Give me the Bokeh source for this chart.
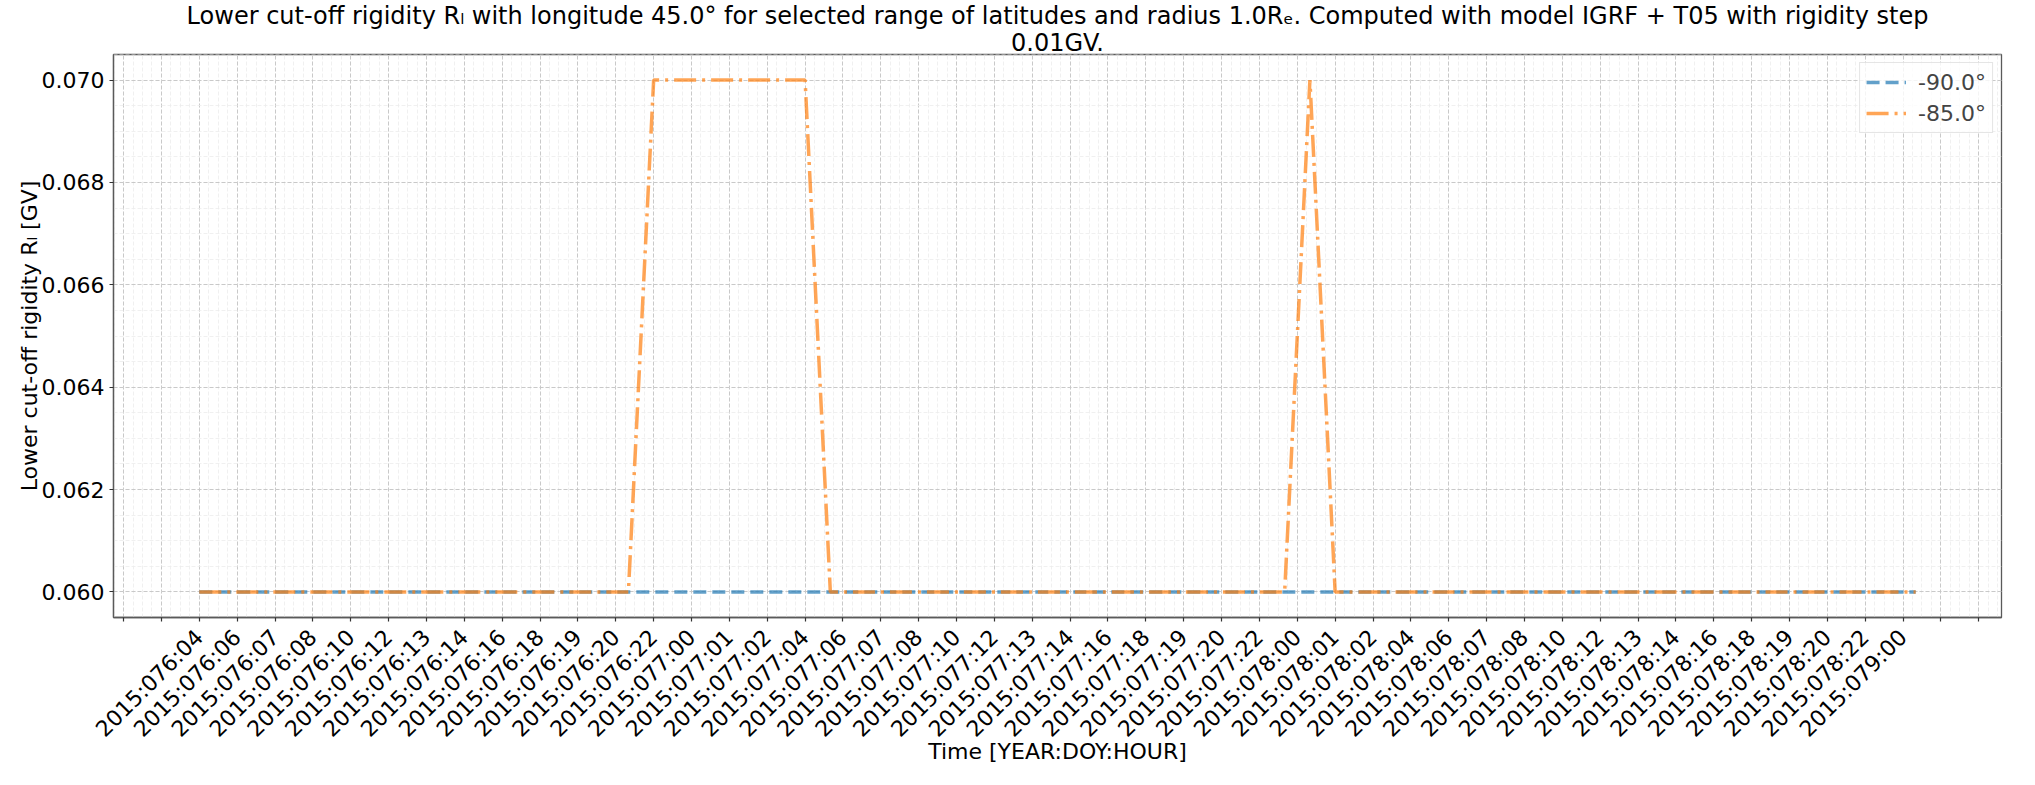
import math
from bokeh.plotting import figure
from bokeh.models import (Range1d, FixedTicker, PrintfTickFormatter, Legend,
                          LegendItem, Title, ColumnDataSource)
from bokeh.embed import file_html
from bokeh.resources import INLINE

# ---- data: hourly samples, index 0 = 2015:076:04 ... 68 = 2015:079:00 ----
hour_index = [0, 1, 2, 3, 4, 5, 6, 7, 8, 9, 10, 11, 12, 13, 14, 15, 16, 17,
              18, 19, 20, 21, 22, 23, 24, 25, 26, 27, 28, 29, 30, 31, 32, 33,
              34, 35, 36, 37, 38, 39, 40, 41, 42, 43, 44, 45, 46, 47, 48, 49,
              50, 51, 52, 53, 54, 55, 56, 57, 58, 59, 60, 61, 62, 63, 64, 65,
              66, 67, 68]

rl_lat_m90 = [0.06, 0.06, 0.06, 0.06, 0.06, 0.06, 0.06, 0.06, 0.06, 0.06,
              0.06, 0.06, 0.06, 0.06, 0.06, 0.06, 0.06, 0.06, 0.06, 0.06,
              0.06, 0.06, 0.06, 0.06, 0.06, 0.06, 0.06, 0.06, 0.06, 0.06,
              0.06, 0.06, 0.06, 0.06, 0.06, 0.06, 0.06, 0.06, 0.06, 0.06,
              0.06, 0.06, 0.06, 0.06, 0.06, 0.06, 0.06, 0.06, 0.06, 0.06,
              0.06, 0.06, 0.06, 0.06, 0.06, 0.06, 0.06, 0.06, 0.06, 0.06,
              0.06, 0.06, 0.06, 0.06, 0.06, 0.06, 0.06, 0.06, 0.06]

rl_lat_m85 = [0.06, 0.06, 0.06, 0.06, 0.06, 0.06, 0.06, 0.06, 0.06, 0.06,
              0.06, 0.06, 0.06, 0.06, 0.06, 0.06, 0.06, 0.06, 0.07, 0.07,
              0.07, 0.07, 0.07, 0.07, 0.07, 0.06, 0.06, 0.06, 0.06, 0.06,
              0.06, 0.06, 0.06, 0.06, 0.06, 0.06, 0.06, 0.06, 0.06, 0.06,
              0.06, 0.06, 0.06, 0.06, 0.07, 0.06, 0.06, 0.06, 0.06, 0.06,
              0.06, 0.06, 0.06, 0.06, 0.06, 0.06, 0.06, 0.06, 0.06, 0.06,
              0.06, 0.06, 0.06, 0.06, 0.06, 0.06, 0.06, 0.06, 0.06]

series_names = ["-90.0°", "-85.0°"]

# tick labels for ticks at 0, 1.5, 3, ... 67.5 (hour index)
tick_labels = [
    "2015:076:04", "2015:076:06", "2015:076:07", "2015:076:08", "2015:076:10",
    "2015:076:12", "2015:076:13", "2015:076:14", "2015:076:16", "2015:076:18",
    "2015:076:19", "2015:076:20", "2015:076:22",
    "2015:077:00", "2015:077:01", "2015:077:02", "2015:077:04", "2015:077:06",
    "2015:077:07", "2015:077:08", "2015:077:10", "2015:077:12", "2015:077:13",
    "2015:077:14", "2015:077:16", "2015:077:18", "2015:077:19", "2015:077:20",
    "2015:077:22",
    "2015:078:00", "2015:078:01", "2015:078:02", "2015:078:04", "2015:078:06",
    "2015:078:07", "2015:078:08", "2015:078:10", "2015:078:12", "2015:078:13",
    "2015:078:14", "2015:078:16", "2015:078:18", "2015:078:19", "2015:078:20",
    "2015:078:22",
    "2015:079:00",
]

y_ticks = [0.060, 0.062, 0.064, 0.066, 0.068, 0.070]

title_line1 = ("Lower cut-off rigidity R\u2097 with longitude 45.0° for selected range of "
               "latitudes and radius 1.0R\u2091. Computed with model IGRF + T05 with rigidity step")
title_line2 = "0.01GV."
x_label = "Time [YEAR:DOY:HOUR]"
y_label = "Lower cut-off rigidity R\u2097 [GV]"

FONT = "DejaVu Sans"

# ---- ranges (matplotlib-like 5% margins) ----
x0, x1 = min(hour_index), max(hour_index)
xm = 0.05 * (x1 - x0)
y0, y1 = min(rl_lat_m90 + rl_lat_m85), max(rl_lat_m90 + rl_lat_m85)
ym = 0.05 * (y1 - y0)

p = figure(frame_width=1888, frame_height=563,
           x_range=Range1d(x0 - xm, x1 + xm), y_range=Range1d(y0 - ym, y1 + ym),
           output_backend="svg", toolbar_location=None,
           min_border_left=113, min_border_right=18, min_border_top=0,
           min_border_bottom=10)
p.background_fill_color = "white"
p.border_fill_color = "white"
p.outline_line_color = "#5a5a5a"
p.outline_line_width = 1.3

# ---- title: line 1 is the plot title (outermost), line 2 sits next to the frame ----
p.title.text = title_line1
p.title.align = "center"
p.title.text_font = FONT
p.title.text_font_size = "24px"
p.title.text_font_style = "normal"
p.title.text_color = "black"
p.title.standoff = -1
t2 = Title(text=title_line2, align="center", text_font=FONT, text_font_size="24px",
           text_font_style="normal", text_color="black", standoff=-5)
p.add_layout(t2, "above")

# ---- ticks ----
step = 1.5
major_x = [step * i for i in range(-2, 48)]
minor_x = [-3.375 + 0.375 * k for k in range(200)]
p.xaxis.ticker = FixedTicker(ticks=major_x, minor_ticks=minor_x)
overrides = {}
for i, t in enumerate(major_x):
    j = i - 2
    overrides[t] = tick_labels[j] if 0 <= j < len(tick_labels) else ""
p.xaxis.major_label_overrides = overrides
p.xaxis.major_label_orientation = math.pi / 4

minor_y = [0.0595 + 0.0005 * k for k in range(23)]
p.yaxis.ticker = FixedTicker(ticks=y_ticks, minor_ticks=minor_y)
p.yaxis.formatter = PrintfTickFormatter(format="%.3f")

for ax in (p.xaxis, p.yaxis):
    ax.axis_line_color = "#5a5a5a"
    ax.axis_line_width = 1.3
    ax.major_tick_line_color = "#333333"
    ax.major_tick_line_width = 1.2
    ax.major_tick_out = 4
    ax.major_tick_in = 0
    ax.minor_tick_line_color = None
    ax.major_label_text_font = FONT
    ax.major_label_text_font_size = "22px"
    ax.major_label_text_color = "black"
    ax.axis_label_text_font = FONT
    ax.axis_label_text_font_size = "22px"
    ax.axis_label_text_font_style = "normal"
    ax.axis_label_text_color = "black"

p.xaxis.axis_label = x_label
p.yaxis.axis_label = y_label
p.yaxis.axis_label_standoff = -3
p.xaxis.major_label_standoff = 12
p.xaxis.axis_label_standoff = -15

# ---- grids ----
for g in (p.xgrid, p.ygrid):
    g.grid_line_color = "#c4c4c4"
    g.grid_line_width = 0.9
    g.grid_line_dash = "4 2"
    g.minor_grid_line_color = "#ececec"
    g.minor_grid_line_width = 0.8
    g.minor_grid_line_dash = "4 2"

# ---- lines ----
src = ColumnDataSource(dict(x=hour_index, a=rl_lat_m90, b=rl_lat_m85))
r1 = p.line("x", "a", source=src, line_color="#1f77b4", line_alpha=0.7,
            line_width=3.5, line_dash="13 6")
r2 = p.line("x", "b", source=src, line_color="#ff7f0e", line_alpha=0.7,
            line_width=3.5, line_dash="22 6 3 6")

legend = Legend(items=[LegendItem(label=series_names[0], renderers=[r1]),
                       LegendItem(label=series_names[1], renderers=[r2])],
                location="top_right")
legend.label_text_font = FONT
legend.label_text_font_size = "22px"
legend.glyph_width = 40
legend.glyph_height = 26
legend.label_standoff = 12
legend.label_height = 26
legend.spacing = 5
legend.padding = 6
legend.margin = 8
legend.border_line_color = "#cccccc"
legend.border_line_width = 1
legend.background_fill_alpha = 0.8
p.add_layout(legend)

open("out.html", "w").write(file_html(p, INLINE))
